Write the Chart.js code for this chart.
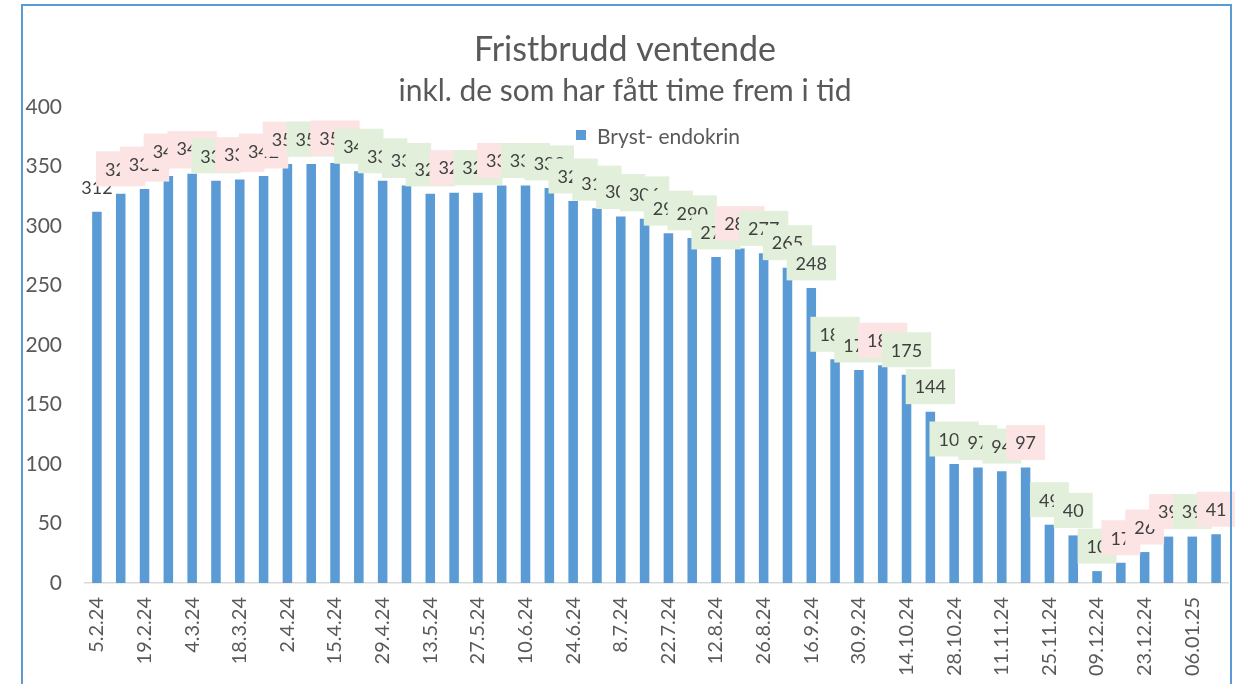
<!DOCTYPE html>
<html>
<head>
<meta charset="utf-8">
<script src="https://cdn.jsdelivr.net/npm/chart.js@4.4.1/dist/chart.umd.min.js"></script>
<style>
    html, body { margin: 0; padding: 0; background: #fff; overflow: hidden; }
    #wrap { position: relative; width: 1235px; height: 684px; }
    #frame {
        position: absolute; left: 21px; top: 4px; width: 1211px; height: 740px;
        border: 2px solid #5B9BD5; box-sizing: border-box; pointer-events: none;
    }
</style>
</head>
<body>
<div id="wrap">
    <canvas id="fristChart" width="1235" height="684"></canvas>
    <div id="frame"></div>
</div>
<script>
// uker (mandager)
const categories = [
    '5.2.24', '12.2.24', '19.2.24', '26.2.24', '4.3.24', '11.3.24', '18.3.24', '25.3.24',
    '2.4.24', '8.4.24', '15.4.24', '22.4.24', '29.4.24', '6.5.24', '13.5.24', '21.5.24',
    '27.5.24', '3.6.24', '10.6.24', '17.6.24', '24.6.24', '1.7.24', '8.7.24', '15.7.24',
    '22.7.24', '5.8.24', '12.8.24', '19.8.24', '26.8.24', '9.9.24', '16.9.24', '23.9.24',
    '30.9.24', '7.10.24', '14.10.24', '21.10.24', '28.10.24', '4.11.24', '11.11.24', '18.11.24',
    '25.11.24', '02.12.24', '09.12.24', '16.12.24', '23.12.24', '30.12.24', '06.01.25', '13.01.25'
];

// Bryst- endokrin, antall ventende med fristbrudd
const brystEndokrin = [
    312, 327, 331, 342, 344, 338, 339, 342, 352, 352, 353, 346,
    338, 334, 327, 328, 328, 334, 334, 332, 321, 315, 308, 306,
    294, 290, 274, 281, 277, 265, 248, 188, 179, 183, 175, 144,
    100, 97, 94, 97, 49, 40, 10, 17, 26, 39, 39, 41
];

const yTicks = [0, 50, 100, 150, 200, 250, 300, 350, 400];

const textColor = '#595959';
Chart.defaults.font.family = 'Lato, "Open Sans", sans-serif';

// etiketter med bakgrunn: rosa = økning, grønn = nedgang / uendret
const valueLabels = {
    id: 'valueLabels',
    afterDatasetsDraw(chart) {
        const ctx = chart.ctx;
        const meta = chart.getDatasetMeta(0);
        const data = chart.data.datasets[0].data;
        ctx.save();
        ctx.font = '18px Lato, "Open Sans", sans-serif';
        ctx.textAlign = 'center';
        ctx.textBaseline = 'middle';
        meta.data.forEach(function(bar, i) {
            const txt = String(data[i]);
            const w = ctx.measureText(txt).width + 18;
            const h = 35;
            const cy = bar.y - 25;
            if (i > 0) {
                ctx.fillStyle = data[i] > data[i - 1] ? '#FCE4E4' : '#E2EFDA';
                ctx.fillRect(bar.x - w / 2, cy - h / 2, w, h);
            }
            ctx.fillStyle = '#404040';
            ctx.fillText(txt, bar.x, cy + 1);
        });
        ctx.restore();
    }
};

// forklaring inne i plottet
const innerLegend = {
    id: 'innerLegend',
    afterDraw(chart) {
        const ctx = chart.ctx;
        const ds = chart.data.datasets[0];
        ctx.save();
        ctx.fillStyle = ds.backgroundColor;
        ctx.fillRect(576, 130, 10, 10);
        ctx.font = '21px Lato, "Open Sans", sans-serif';
        ctx.fillStyle = textColor;
        ctx.textAlign = 'left';
        ctx.textBaseline = 'middle';
        ctx.fillText(ds.label, 597, 137);
        ctx.restore();
    }
};

const ctx = document.getElementById('fristChart').getContext('2d');
new Chart(ctx, {
    type: 'bar',
    data: {
        labels: categories,
        datasets: [{
            label: 'Bryst- endokrin',
            data: brystEndokrin,
            backgroundColor: '#5B9BD5',
            borderWidth: 0,
            barPercentage: 0.4,
            categoryPercentage: 1.0
        }]
    },
    options: {
        responsive: false,
        animation: false,
        layout: { padding: { left: 22, right: 7, top: 0, bottom: 0 } },
        plugins: {
            legend: { display: false },
            tooltip: { enabled: false },
            title: {
                display: true,
                text: 'Fristbrudd ventende',
                color: textColor,
                font: { size: 34, weight: 'normal', lineHeight: 1.0 },
                padding: { top: 33, bottom: 0 }
            },
            subtitle: {
                display: true,
                text: 'inkl. de som har fått time frem i tid',
                color: textColor,
                font: { size: 30, weight: 'normal', lineHeight: 1.0 },
                padding: { top: 9, bottom: 1 }
            }
        },
        scales: {
            x: {
                grid: { display: false, drawTicks: false },
                border: { display: true, color: '#D9D9D9', width: 1.5 },
                ticks: {
                    autoSkip: false,
                    minRotation: 90,
                    maxRotation: 90,
                    padding: 14,
                    color: textColor,
                    font: { size: 20 },
                    callback: function(v, i) { return i % 2 === 0 ? categories[i] : ''; }
                },
                afterFit: function(scale) {
                    scale.height = 101;
                    scale.paddingLeft = 0;
                    scale.paddingRight = 0;
                }
            },
            y: {
                min: 0,
                max: 400,
                grid: { display: false, drawTicks: false },
                border: { display: false },
                afterBuildTicks: function(scale) { scale.ticks = yTicks.map(v => ({ value: v })); },
                ticks: {
                    padding: 23,
                    color: textColor,
                    font: { size: 21 }
                },
                afterFit: function(scale) { scale.width = 63; }
            }
        }
    },
    plugins: [valueLabels, innerLegend]
});
</script>
</body>
</html>
